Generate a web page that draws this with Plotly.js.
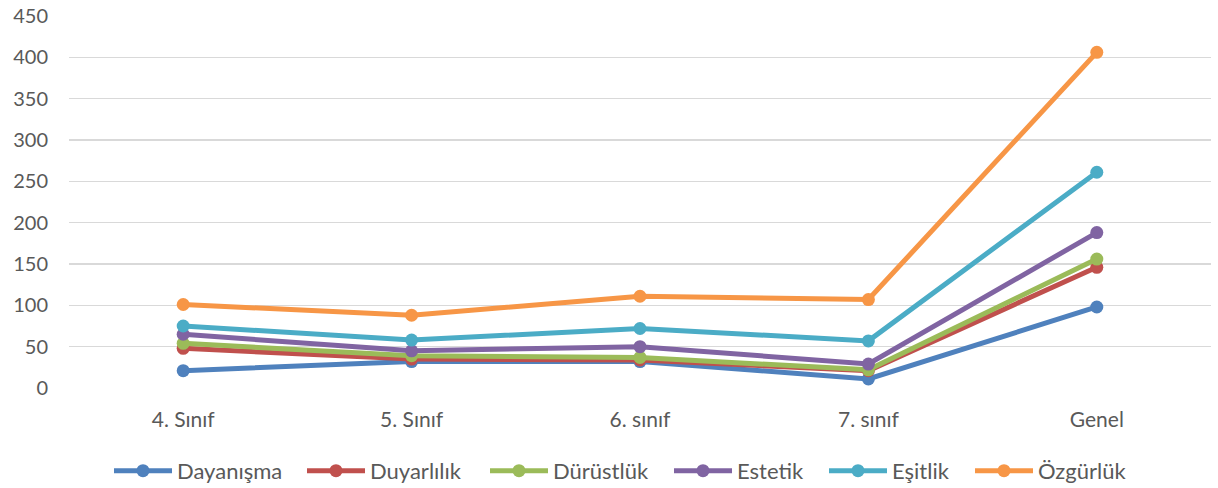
<!DOCTYPE html>
<html>
<head>
<meta charset="utf-8">
<script src="https://cdn.plot.ly/plotly-3.0.1.min.js"></script>
<style>html,body{margin:0;padding:0;background:#fff;}#chart{width:1218px;height:488px;}</style>
</head>
<body>
<div id="chart"></div>
<script>
var categories = ["4. Sınıf", "5. Sınıf", "6. sınıf", "7. sınıf", "Genel"];
var seriesNames = ["Dayanışma", "Duyarlılık", "Dürüstlük", "Estetik", "Eşitlik", "Özgürlük"];
var dayanisma = [21, 32, 32, 11, 98];
var duyarlilik = [48, 35, 34, 21, 146];
var durustluk = [54, 39, 37, 22, 156];
var estetik = [65, 45, 50, 29, 188];
var esitlik = [75, 58, 72, 57, 261];
var ozgurluk = [101, 88, 111, 107, 406];
var colors = ["#4F81BD", "#C0504D", "#9BBB59", "#8064A2", "#4BACC6", "#F79646"];
var yTicks = [0, 50, 100, 150, 200, 250, 300, 350, 400, 450];
// left edge (px) of each legend entry
var legendX = [117, 310, 493, 677, 832, 978];

var allSeries = [dayanisma, duyarlilik, durustluk, estetik, esitlik, ozgurluk];
var legendIds = ["legend", "legend2", "legend3", "legend4", "legend5", "legend6"];
var traces = allSeries.map(function (vals, i) {
  return {
    x: categories, y: vals, name: seriesNames[i], type: "scatter", mode: "lines+markers",
    line: {color: colors[i], width: 5},
    marker: {color: colors[i], size: 13},
    legend: legendIds[i]
  };
});

var layout = {
  width: 1218, height: 488,
  margin: {l: 69, r: 7, t: 16, b: 100},
  paper_bgcolor: "#fff", plot_bgcolor: "#fff",
  font: {family: "Lato, 'Open Sans', sans-serif", size: 20, color: "#595959"},
  showlegend: true,
  xaxis: {type: "category", range: [-0.5, 4.5], showgrid: false, zeroline: false, automargin: false,
    showline: false, ticks: "", tickfont: {size: 21, color: "#595959"}, ticklabelstandoff: 17},
  yaxis: {range: [0, 450], tickvals: yTicks, ticktext: yTicks.map(String), showgrid: true, automargin: false,
    gridcolor: "#D9D9D9", gridwidth: 1.5, zeroline: false, showline: false, ticks: "",
    tickfont: {size: 20, color: "#595959"}, ticklabelstandoff: 20}
};
legendIds.forEach(function (id, i) {
  layout[id] = {orientation: "h", x: (legendX[i] - 8) / 1218, xanchor: "left", xref: "container",
    y: 0.035, yanchor: "middle", yref: "container", itemwidth: 58,
    bgcolor: "rgba(0,0,0,0)", font: {size: 22, color: "#595959"}};
});
Plotly.newPlot("chart", traces, layout, {displayModeBar: false, staticPlot: true});
</script>
</body>
</html>
